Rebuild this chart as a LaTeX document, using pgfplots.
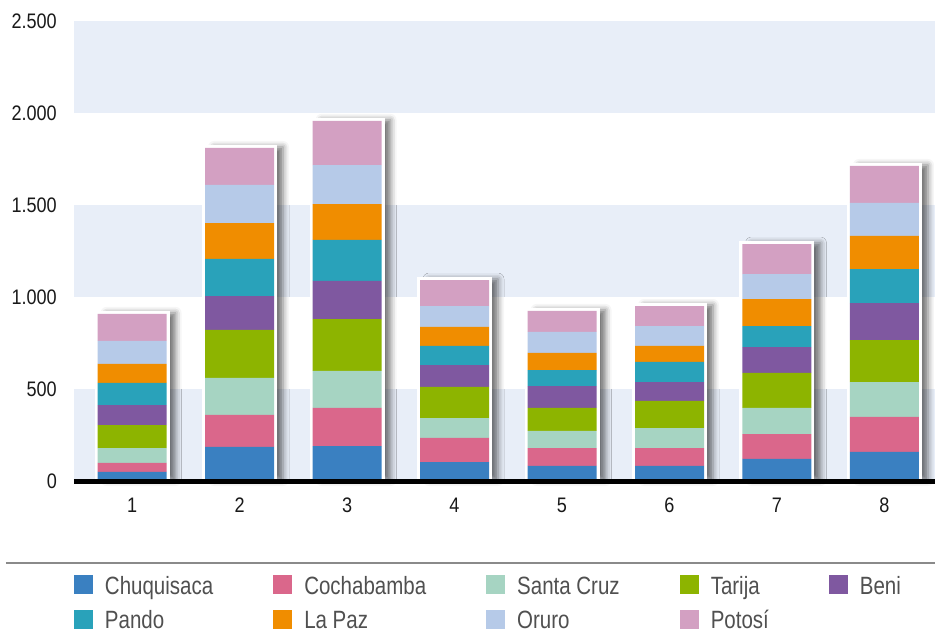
\documentclass[border=0pt]{standalone}
\usepackage{fontspec}
\setmainfont{Liberation Sans}
\newfontfamily\tickfont[FakeStretch=0.86]{Liberation Sans}
\newfontfamily\legfont[FakeStretch=0.82]{Liberation Sans}
\usepackage{pgfplots}
\pgfplotsset{compat=1.18}
\usepackage{pgfplotstable}
\usetikzlibrary{shadows.blur}

\definecolor{chu}{RGB}{58,128,193}
\definecolor{coc}{RGB}{218,103,139}
\definecolor{sc}{RGB}{166,212,194}
\definecolor{tar}{RGB}{141,180,0}
\definecolor{ben}{RGB}{127,88,160}
\definecolor{pan}{RGB}{41,162,186}
\definecolor{lp}{RGB}{240,141,0}
\definecolor{oru}{RGB}{182,202,232}
\definecolor{pot}{RGB}{211,160,194}
\definecolor{band}{RGB}{232,238,248}
\definecolor{legtext}{RGB}{80,80,80}
\definecolor{sepgray}{RGB}{138,138,138}

\pgfplotstableread{
x chu coc sc tar ben pan lp oru pot tot
1 49 49 81 125 109 120 103 125 147 908
2 185 174 201 261 184 202 195 207 201 1810
3 190 207 201 282 207 223 195 212 240 1957
4 103 131 108 169 119 104 103 114 141 1092
5 82 97 93 125 119 87 93 114 114 924
6 82 97 109 147 103 109 87 108 109 951
7 120 135 142 190 141 114 147 136 163 1288
8 158 190 190 228 201 185 180 179 201 1712
}\data

\begin{document}
\begin{tikzpicture}
\useasboundingbox (-74pt,-154pt) rectangle (861pt,481pt);
% background: bands and framed bars with shadows
\begin{axis}[
  scale only axis, width=861pt, height=460pt,
  xmin=0.46, xmax=8.47, ymin=0, ymax=2500,
  hide axis, clip=false,
  ybar, bar width=69pt,
]
\fill[band] (axis cs:0.46,0) rectangle (axis cs:8.47,500);
\fill[band] (axis cs:0.46,1000) rectangle (axis cs:8.47,1500);
\fill[band] (axis cs:0.46,2000) rectangle (axis cs:8.47,2500);
\addplot[fill=white, draw=white, line width=6pt, line join=miter,
  blur shadow={shadow xshift=9pt, shadow yshift=1pt, shadow blur radius=6pt, shadow opacity=55}]
  table[x=x,y=tot]{\data};
\end{axis}
% foreground: stacked bars, ticks, legend
\begin{axis}[
  scale only axis, width=861pt, height=460pt,
  xmin=0.46, xmax=8.47, ymin=0, ymax=2500,
  ybar stacked, bar width=69pt,
  axis x line*=bottom, axis y line*=left,
  y axis line style={draw=none},
  x axis line style={line width=5pt, black, -},
  axis on top,
  major tick length=0pt,
  xtick={1,...,8}, ytick={0,500,...,2500},
  tick label style={font=\tickfont\fontsize{21}{24}\selectfont, text=black!90},
  /pgf/number format/assume math mode=true,
  /pgf/number format/1000 sep={.},
  yticklabel style={anchor=east, xshift=-17pt, inner sep=0pt},
  xticklabel style={anchor=north, yshift=-17pt, inner sep=0pt},
  legend columns=5,
  legend image code/.code={\fill[#1] (0pt,0pt) rectangle (19pt,19pt);},
  legend style={at={(axis description cs:0,0)}, anchor=north west, yshift=-94pt,
    draw=none, fill=none, inner sep=0pt, outer sep=0pt,
    font=\legfont\fontsize{25}{28}\selectfont, text=legtext,
    cells={anchor=base west},
    nodes={inner sep=0pt, outer sep=0pt},
    /tikz/every odd column/.append style={column sep=12pt},
    /tikz/every even column/.append style={column sep=60pt},
    row sep=14pt},
]
\addplot[fill=chu, draw=none] table[x=x,y=chu]{\data};
\addlegendentry{Chuquisaca}
\addplot[fill=coc, draw=none] table[x=x,y=coc]{\data};
\addlegendentry{Cochabamba}
\addplot[fill=sc, draw=none] table[x=x,y=sc]{\data};
\addlegendentry{Santa Cruz}
\addplot[fill=tar, draw=none] table[x=x,y=tar]{\data};
\addlegendentry{Tarija}
\addplot[fill=ben, draw=none] table[x=x,y=ben]{\data};
\addlegendentry{Beni}
\addplot[fill=pan, draw=none] table[x=x,y=pan]{\data};
\addlegendentry{Pando}
\addplot[fill=lp, draw=none] table[x=x,y=lp]{\data};
\addlegendentry{La Paz}
\addplot[fill=oru, draw=none] table[x=x,y=oru]{\data};
\addlegendentry{Oruro}
\addplot[fill=pot, draw=none] table[x=x,y=pot]{\data};
\addlegendentry{Potosí}
\end{axis}
\draw[sepgray, line width=1.5pt] (-68pt,-82pt) -- (861pt,-82pt);
\end{tikzpicture}
\end{document}
